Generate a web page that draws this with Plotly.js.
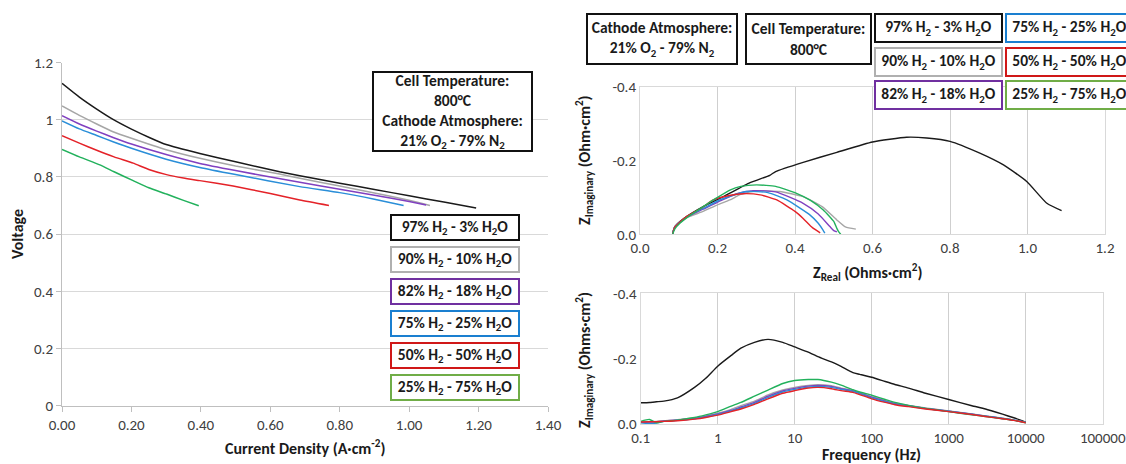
<!DOCTYPE html>
<html><head><meta charset="utf-8">
<script src="https://cdn.plot.ly/plotly-3.0.1.min.js"></script>
<style>html,body{margin:0;padding:0;background:#fff}#chart{width:1126px;height:464px}</style>
</head><body><div id="chart"></div>
<script>
// ---------- labels ----------
const seriesLabels = ['97% H<sub>2</sub> - 3% H<sub>2</sub>O','90% H<sub>2</sub> - 10% H<sub>2</sub>O','82% H<sub>2</sub> - 18% H<sub>2</sub>O','75% H<sub>2</sub> - 25% H<sub>2</sub>O','50% H<sub>2</sub> - 50% H<sub>2</sub>O','25% H<sub>2</sub> - 75% H<sub>2</sub>O'];
const lineColors = ['#1a1a1a','#a6a6a6','#8040c0','#2a8ed8','#e42228','#22b15c'];
const boxColors  = ['#111111','#b0b0b0','#7030a0','#1a7fd0','#d01818','#70ad47'];

// ---------- polarization curves (current density A/cm2, voltage V) ----------
const j97 = [0, 0.05, 0.10, 0.147, 0.20, 0.253, 0.30, 0.397, 0.50, 0.627, 0.685, 0.80, 0.90, 1.00, 1.10, 1.193];
const v97 = [1.127, 1.079, 1.037, 1.001, 0.967, 0.937, 0.913, 0.882, 0.853, 0.818, 0.804, 0.778, 0.756, 0.734, 0.712, 0.691];
const j90 = [0, 0.05, 0.10, 0.147, 0.20, 0.30, 0.397, 0.50, 0.627, 0.685, 0.80, 0.90, 1.00, 1.06];
const v90 = [1.048, 1.015, 0.985, 0.958, 0.935, 0.895, 0.865, 0.838, 0.810, 0.795, 0.768, 0.744, 0.718, 0.700];
const j82 = [0, 0.05, 0.10, 0.147, 0.20, 0.30, 0.397, 0.50, 0.685, 0.80, 0.90, 1.00, 1.049];
const v82 = [1.014, 0.985, 0.960, 0.938, 0.915, 0.878, 0.847, 0.822, 0.781, 0.757, 0.736, 0.714, 0.702];
const j75 = [0, 0.05, 0.10, 0.147, 0.20, 0.30, 0.397, 0.50, 0.685, 0.80, 0.90, 0.984];
const v75 = [0.996, 0.968, 0.945, 0.923, 0.900, 0.862, 0.833, 0.808, 0.766, 0.745, 0.722, 0.700];
const j50 = [0, 0.05, 0.10, 0.15, 0.205, 0.25, 0.301, 0.35, 0.397, 0.493, 0.60, 0.685, 0.769];
const v50 = [0.944, 0.918, 0.893, 0.870, 0.848, 0.826, 0.808, 0.796, 0.787, 0.768, 0.742, 0.719, 0.700];
const j25 = [0, 0.05, 0.109, 0.15, 0.205, 0.25, 0.301, 0.35, 0.394];
const v25 = [0.896, 0.870, 0.842, 0.818, 0.787, 0.762, 0.740, 0.718, 0.699];

// ---------- Nyquist (Z real, Z imaginary; Ohm cm2) ----------
const zr97 = [0.084, 0.090, 0.112, 0.163, 0.215, 0.284, 0.335, 0.350, 0.421, 0.508, 0.600, 0.688, 0.740, 0.800, 0.877, 0.938, 0.998, 1.050, 1.088];
const zi97 = [-0.003, -0.021, -0.042, -0.075, -0.102, -0.140, -0.160, -0.170, -0.195, -0.222, -0.250, -0.263, -0.261, -0.252, -0.220, -0.188, -0.143, -0.084, -0.064];
const zr90 = [0.084, 0.090, 0.120, 0.163, 0.200, 0.232, 0.260, 0.301, 0.360, 0.421, 0.470, 0.508, 0.530, 0.557];
const zi90 = [0, -0.020, -0.045, -0.062, -0.080, -0.093, -0.108, -0.118, -0.116, -0.102, -0.075, -0.039, -0.020, -0.014];
const zr82 = [0.084, 0.090, 0.120, 0.163, 0.210, 0.250, 0.292, 0.350, 0.421, 0.460, 0.490, 0.500, 0.508];
const zi82 = [0, -0.020, -0.046, -0.068, -0.092, -0.110, -0.118, -0.115, -0.084, -0.055, -0.021, -0.010, -0.007];
const zr75 = [0.084, 0.090, 0.120, 0.163, 0.210, 0.275, 0.330, 0.379, 0.439, 0.460, 0.472, 0.477];
const zi75 = [0, -0.020, -0.047, -0.070, -0.095, -0.116, -0.113, -0.093, -0.052, -0.030, -0.012, -0.003];
const zr50 = [0.084, 0.090, 0.120, 0.160, 0.189, 0.230, 0.267, 0.310, 0.353, 0.400, 0.421, 0.445, 0.465];
const zi50 = [0, -0.020, -0.048, -0.072, -0.093, -0.105, -0.110, -0.107, -0.093, -0.062, -0.043, -0.018, -0.004];
const zr25 = [0.084, 0.090, 0.103, 0.130, 0.163, 0.200, 0.232, 0.260, 0.301, 0.350, 0.404, 0.440, 0.473, 0.500, 0.508, 0.512, 0.518];
const zi25 = [0, -0.015, -0.030, -0.052, -0.075, -0.100, -0.120, -0.130, -0.134, -0.130, -0.111, -0.092, -0.066, -0.035, -0.016, -0.008, 0];

// ---------- Bode (frequency Hz, Z imaginary) ----------
const freq = [0.1, 0.13, 0.16, 0.2, 0.3, 0.5, 0.7, 1, 1.5, 2, 3, 4.5, 7, 10, 15, 20, 30, 40, 57, 70, 100, 150, 200, 300, 500, 1000, 2000, 3000, 5000, 7000, 10000];
const b97 = [-0.065, -0.066, -0.068, -0.070, -0.080, -0.112, -0.140, -0.177, -0.210, -0.232, -0.250, -0.259, -0.250, -0.236, -0.220, -0.206, -0.190, -0.176, -0.157, -0.152, -0.143, -0.130, -0.121, -0.110, -0.094, -0.075, -0.056, -0.046, -0.030, -0.019, -0.006];
const b90 = [-0.006, -0.007, -0.008, -0.010, -0.013, -0.019, -0.025, -0.033, -0.045, -0.056, -0.070, -0.089, -0.104, -0.112, -0.118, -0.120, -0.117, -0.110, -0.103, -0.096, -0.084, -0.072, -0.064, -0.057, -0.049, -0.040, -0.031, -0.025, -0.018, -0.012, -0.005];
const b82 = [-0.005, -0.006, -0.007, -0.009, -0.012, -0.017, -0.023, -0.031, -0.042, -0.052, -0.066, -0.085, -0.101, -0.109, -0.116, -0.118, -0.115, -0.108, -0.101, -0.094, -0.082, -0.070, -0.062, -0.056, -0.048, -0.039, -0.030, -0.024, -0.017, -0.012, -0.005];
const b75 = [-0.004, -0.002, -0.003, -0.008, -0.011, -0.016, -0.021, -0.029, -0.040, -0.049, -0.063, -0.081, -0.098, -0.106, -0.113, -0.115, -0.112, -0.106, -0.100, -0.093, -0.080, -0.068, -0.061, -0.055, -0.047, -0.039, -0.030, -0.024, -0.017, -0.012, -0.005];
const b50 = [-0.006, -0.007, -0.007, -0.008, -0.010, -0.015, -0.020, -0.027, -0.038, -0.046, -0.060, -0.077, -0.094, -0.102, -0.110, -0.112, -0.108, -0.102, -0.097, -0.090, -0.077, -0.066, -0.059, -0.053, -0.046, -0.038, -0.029, -0.023, -0.016, -0.011, -0.004];
const b25 = [-0.008, -0.014, -0.004, -0.008, -0.012, -0.020, -0.028, -0.038, -0.055, -0.066, -0.085, -0.104, -0.124, -0.133, -0.136, -0.136, -0.128, -0.119, -0.105, -0.098, -0.088, -0.075, -0.066, -0.057, -0.048, -0.038, -0.028, -0.023, -0.016, -0.011, -0.004];

// ---------- tick labels ----------
const freqTicks = [0.1, 1, 10, 100, 1000, 10000, 100000];
const freqTickText = ['0.1','1','10','100','1000','10000','100000'];
const zTicks = [0, -0.2, -0.4];
const zTickText = ['0.0','-0.2','-0.4'];

const polX = [j97, j90, j82, j75, j50, j25];
const polY = [v97, v90, v82, v75, v50, v25];
const nyX = [zr97, zr90, zr82, zr75, zr50, zr25];
const nyY = [zi97, zi90, zi82, zi75, zi50, zi25];
const bode = [b97, b90, b82, b75, b50, b25];

const W = 1126, H = 464;
const FONT = 'Carlito, Lato, sans-serif';
const tickFont = {family: FONT, size: 15, color: '#404040'};
const traces = [];
for (const i of [0,1,2,3,5,4]) {
  traces.push({x: polX[i], y: polY[i], xaxis: 'x', yaxis: 'y', mode: 'lines', line: {color: lineColors[i], width: 1.5, shape: 'spline', smoothing: 0.5}, hoverinfo: 'skip'});
}
for (const i of [0,1,2,3,4,5]) {
  traces.push({x: nyX[i], y: nyY[i], xaxis: 'x2', yaxis: 'y2', mode: 'lines', line: {color: lineColors[i], width: 1.4, shape: 'spline', smoothing: 0.5}, hoverinfo: 'skip'});
}
for (const i of [0,1,2,3,5,4]) {
  traces.push({x: freq, y: bode[i], xaxis: 'x3', yaxis: 'y3', mode: 'lines', line: {color: lineColors[i], width: 1.4, shape: 'spline', smoothing: 0.5}, hoverinfo: 'skip'});
}

const px = v => v / W;
const py = v => 1 - v / H;
const annotations = [];
function box(text, cx, cy, w, h, color) {
  annotations.push({xref: 'paper', yref: 'paper', x: px(cx), y: py(cy), xanchor: 'center', yanchor: 'middle',
    text: text, showarrow: false, align: 'center', width: w - 4, height: h - 4, borderpad: 1, borderwidth: 2,
    bordercolor: color, bgcolor: '#ffffff', font: {family: FONT, size: 15.5, color: '#1a1a1a', weight: 700}});
}
function title(text, cx, cy, angle) {
  annotations.push({xref: 'paper', yref: 'paper', x: px(cx), y: py(cy), xanchor: 'center', yanchor: 'middle',
    text: text, showarrow: false, textangle: angle || 0, font: {family: FONT, size: 16, color: '#1a1a1a', weight: 700}});
}
// left plot boxes
box('Cell Temperature:<br>800°C<br>Cathode Atmosphere:<br>21% O<sub>2</sub> - 79% N<sub>2</sub>', 452.2, 111.3, 159, 79, '#111111');
const leftRows = [227, 259, 291, 323, 355, 387];
for (let i = 0; i < 6; i++) box(seriesLabels[i], 454.9, leftRows[i], 128, 25, boxColors[i]);
// right boxes
box('Cathode Atmosphere:<br>21% O<sub>2</sub> - 79% N<sub>2</sub>', 661.7, 39, 150, 50, '#111111');
box('Cell Temperature:<br>800°C', 808.2, 39, 125, 50, '#111111');
const rRows = [28.3, 62.2, 95.5];
for (let i = 0; i < 6; i++) box(seriesLabels[i], i < 3 ? 938.7 : 1069.2, rRows[i % 3], 127, 28, boxColors[i]);
// axis titles
title('Voltage', 17, 234, -90);
title('Current Density (A·cm<sup>-2</sup>)', 305, 447);
title('Z<sub>Imaginary</sub> (Ohm·cm<sup>2</sup>)', 584, 160, -90);
title('Z<sub>Real</sub> (Ohms·cm<sup>2</sup>)', 868, 272);
title('Z<sub>Imaginary</sub> (Ohms·cm<sup>2</sup>)', 584, 360, -90);
title('Frequency (Hz)', 871, 454);

const layout = {
  width: W, height: H, margin: {l: 0, r: 0, t: 0, b: 0}, showlegend: false,
  paper_bgcolor: '#ffffff', plot_bgcolor: '#ffffff', font: {family: FONT},
  xaxis: {domain: [px(62), px(548)], range: [0, 1.4], dtick: 0.2, tick0: 0, tickformat: '.2f', showgrid: false, zeroline: false,
    showline: true, linecolor: '#bfbfbf', linewidth: 1, ticks: 'outside', ticklen: 5, tickcolor: '#bfbfbf', tickfont: tickFont, anchor: 'y'},
  yaxis: {domain: [py(405.7), py(62.5)], range: [0, 1.2], dtick: 0.2, tick0: 0, showgrid: true, gridcolor: '#d9d9d9', zeroline: false,
    showline: true, linecolor: '#bfbfbf', ticks: 'outside', ticklen: 5, tickcolor: '#bfbfbf', tickfont: tickFont, anchor: 'x'},
  xaxis2: {domain: [px(640), px(1105)], range: [0, 1.2], dtick: 0.2, tick0: 0, tickformat: '.1f', showgrid: true, gridcolor: '#cfcfcf', zeroline: false,
    showline: true, mirror: true, linecolor: '#d9d9d9', ticks: '', tickfont: tickFont, anchor: 'y2'},
  yaxis2: {domain: [py(234.3), py(86.7)], range: [0, -0.4], tickvals: zTicks, ticktext: zTickText, showgrid: false, zeroline: false,
    showline: true, mirror: true, linecolor: '#d9d9d9', ticks: '', tickfont: tickFont, anchor: 'x2'},
  xaxis3: {domain: [px(640.7), px(1102.7)], type: 'log', range: [-1, 5], tickvals: freqTicks, ticktext: freqTickText, showgrid: true, gridcolor: '#cfcfcf', zeroline: false,
    showline: true, mirror: true, linecolor: '#d9d9d9', ticks: '', tickfont: tickFont, anchor: 'y3'},
  yaxis3: {domain: [py(424), py(293.3)], range: [0, -0.4], tickvals: zTicks, ticktext: zTickText, showgrid: false, zeroline: false,
    showline: true, mirror: true, linecolor: '#d9d9d9', ticks: '', tickfont: tickFont, anchor: 'x3'},
  annotations: annotations
};
Plotly.newPlot('chart', traces, layout, {staticPlot: true, displayModeBar: false});
</script></body></html>
